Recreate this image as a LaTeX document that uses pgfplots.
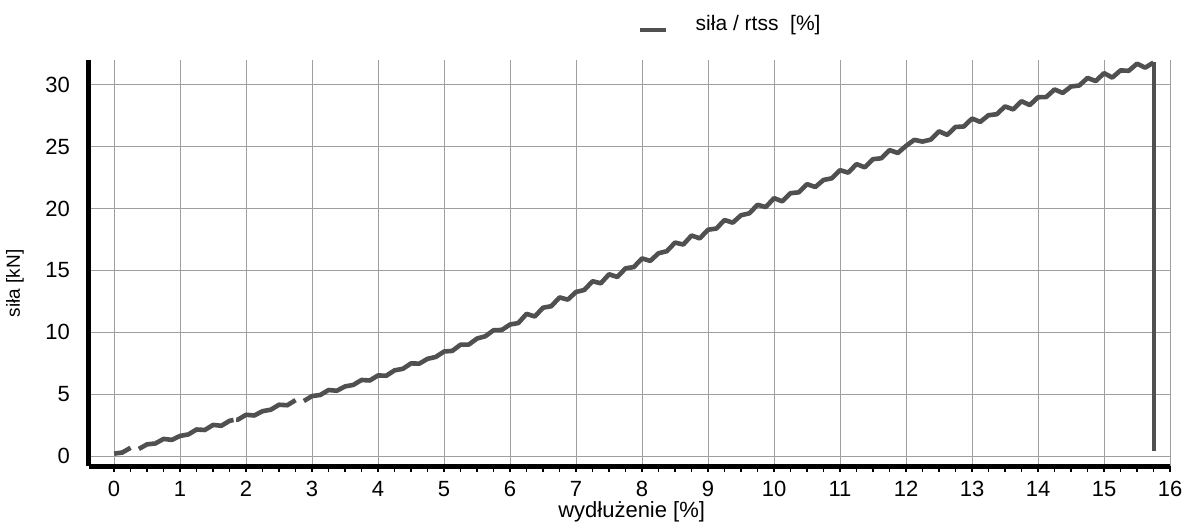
\documentclass[border=0pt]{standalone}
\usepackage{fontspec}
\setmainfont{Liberation Sans}
\usepackage{pgfplots}
\usepackage{pgfplotstable}
\pgfplotsset{compat=1.18}
\definecolor{curve}{HTML}{505050}
\pgfplotstableread{
x y
0 0.2
0.125 0.29
0.25 0.67
0.3 nan
0.375 0.58
0.5 0.95
0.625 1.02
0.75 1.39
0.875 1.31
1 1.63
1.125 1.75
1.25 2.15
1.375 2.11
1.5 2.52
1.625 2.45
1.75 2.85
1.81 2.92
1.83 nan
1.85 2.95
1.875 2.94
2 3.34
2.125 3.28
2.25 3.63
2.375 3.75
2.5 4.15
2.625 4.11
2.75 4.52
2.8 nan
2.875 4.45
3 4.85
3.125 4.94
3.25 5.34
3.375 5.28
3.5 5.63
3.625 5.75
3.75 6.15
3.875 6.11
4 6.52
4.125 6.49
4.25 6.93
4.375 7.05
4.5 7.49
4.625 7.47
4.75 7.86
4.875 8.01
5 8.45
5.125 8.50
5.25 9.00
5.375 9.01
5.5 9.50
5.625 9.68
5.75 10.17
5.875 10.19
6 10.63
6.125 10.75
6.25 11.49
6.375 11.28
6.5 11.99
6.625 12.11
6.75 12.82
6.875 12.64
7 13.26
7.125 13.42
7.25 14.13
7.375 13.96
7.5 14.69
7.625 14.47
7.75 15.17
7.875 15.27
8 15.97
8.125 15.77
8.25 16.39
8.375 16.55
8.5 17.25
8.625 17.09
8.75 17.82
8.875 17.59
9 18.29
9.125 18.38
9.25 19.07
9.375 18.86
9.5 19.46
9.625 19.61
9.75 20.30
9.875 20.12
10 20.84
10.125 20.58
10.25 21.24
10.375 21.31
10.5 21.97
10.625 21.74
10.75 22.31
10.875 22.44
11 23.10
11.125 22.90
11.25 23.59
11.375 23.33
11.5 23.99
11.625 24.06
11.75 24.72
11.875 24.49
12 25.06
12.125 25.55
12.25 25.41
12.375 25.57
12.5 26.24
12.625 25.95
12.75 26.59
12.875 26.63
13 27.27
13.125 27.00
13.25 27.54
13.375 27.62
13.5 28.25
13.625 28.01
13.75 28.67
13.875 28.36
14 28.99
14.125 29.01
14.25 29.62
14.375 29.34
14.5 29.86
14.625 29.94
14.75 30.55
14.875 30.30
15 30.94
15.125 30.58
15.25 31.16
15.375 31.13
15.5 31.70
15.625 31.38
15.75 31.8
}\curvedata
\begin{document}
\begin{tikzpicture}
\begin{axis}[
  scale only axis, width=540.5pt, height=203pt,
  xmin=-0.38, xmax=16, ymin=-0.8, ymax=32,
  axis x line=bottom, axis y line=left,
  axis line style={-, line width=2.5pt, black},
  xtick={0,1,...,16}, ytick={0,5,...,30},
  minor x tick num=3,
  grid=major, major grid style={gray!75, line width=0.45pt},
  minor grid style={draw=none},
  tick align=outside,
  major tick length=3pt, minor tick length=3pt,
  x tick style={black, line width=0.9pt},
  y tick style={draw=none},
  /pgf/number format/assume math mode=true,
  tick label style={font=\fontsize{11}{13}\selectfont},
  yticklabel style={xshift=-3pt},
  xticklabel style={yshift=-1pt},
  xlabel={wydłużenie [\%]},
  ylabel={siła [kN]},
  xlabel style={font=\fontsize{11}{13}\selectfont, at={(axis description cs:0.502,0)}, anchor=center, yshift=-23pt},
  ylabel style={font=\fontsize{9.5}{11}\selectfont, at={(axis description cs:0,0.45)}, anchor=center, yshift=37pt},
  unbounded coords=jump,
  legend style={at={(axis description cs:0.594,1)}, anchor=center, yshift=18pt, draw=none, fill=none, font=\fontsize{10.5}{12}\selectfont},
  legend image code/.code={\draw[line width=2pt, curve] (0pt,-3pt) -- (13pt,-3pt);},
  clip=false,
]
\addplot[curve, line width=2.3pt, line join=round] table[x=x, y=y] {\curvedata};
\addlegendentry{\hspace*{12pt}siła / rtss\ \ [\%]}
\addplot[curve, line width=2.3pt, forget plot] coordinates {(15.76,0.4) (15.76,31.8)};
\end{axis}
\pgfresetboundingbox
\path ([shift={(-44.5pt,-30pt)}]current axis.south west) rectangle ([shift={(9.5pt,30pt)}]current axis.north east);
\end{tikzpicture}
\end{document}
